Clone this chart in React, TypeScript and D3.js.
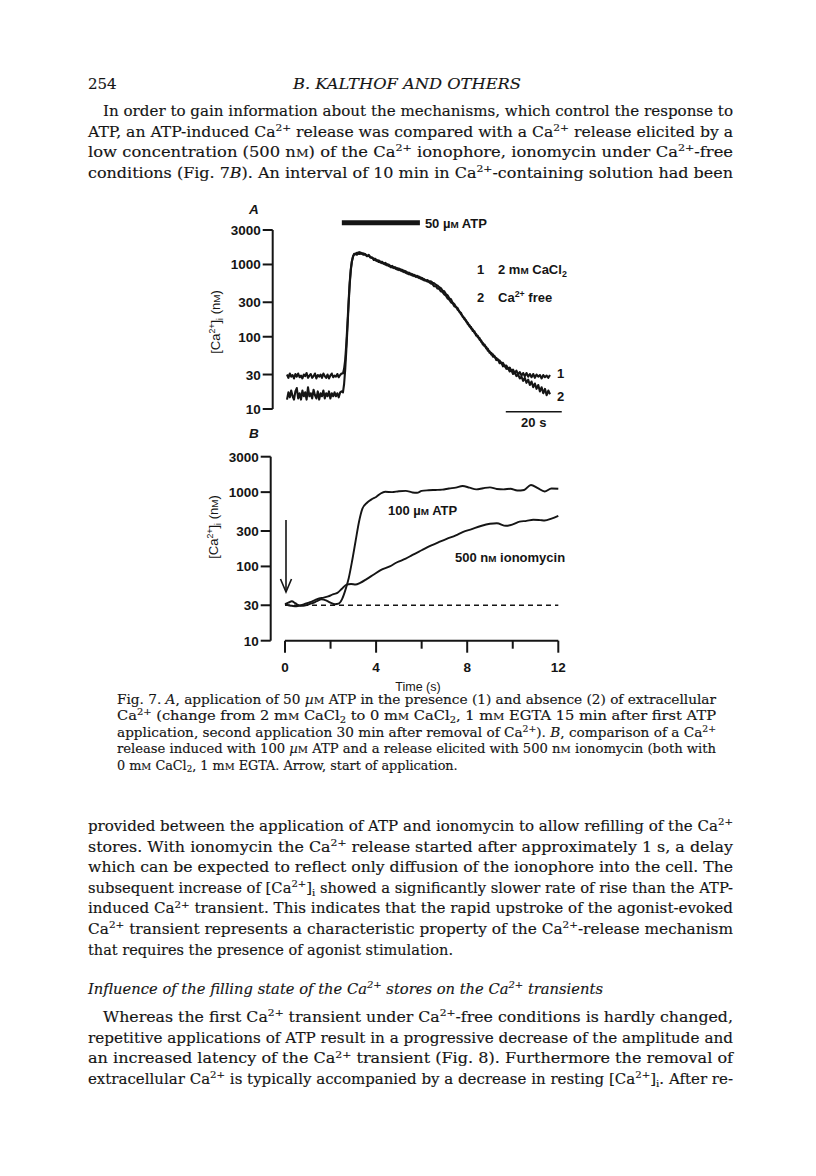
import React from 'react';
import * as d3 from 'd3';

// ---------- data ----------
const yTicks = [10, 30, 100, 300, 1000, 3000];
const yTickLabels = ['10', '30', '100', '300', '1000', '3000'];
const timeTicksB = [0, 4, 8, 12];
const minorTicksB = [2, 6, 10];

// Panel A: time (s) / [Ca2+]i (nM)
const atpBarA: [number, number] = [19.6, 47.5];
const scaleBarA: [number, number] = [78.2, 98.2];

const baseA1 = [30, 27, 31, 28, 29.5, 26.5, 30.5, 28, 31, 27.5, 29, 26.5, 30, 28.5, 31.5, 27, 29, 30.5, 27, 28.5,
  31, 26.5, 29.5, 28, 30, 27, 31, 28.5, 27, 30, 26.5, 29, 31, 27.5, 29, 28, 30.5, 27.5, 29.5, 31];
const baseA2 = [13.5, 17, 14.5, 18, 15, 13.5, 17.5, 19.5, 14, 16.5, 13.5, 18, 15, 17, 13.5, 20, 15, 16.5, 14, 18.5,
  15.5, 14, 17.5, 13.5, 16.5, 15, 18, 14, 16.5, 15, 17.5, 14, 16.5, 15, 17, 15, 16.5, 14.5, 17, 17.5];

const riseA1: [number, number][] = [[20, 31], [20.4, 36], [20.8, 48], [21.2, 80], [21.6, 150], [22, 300], [22.4, 560], [22.8, 860],
  [23.2, 1120], [23.6, 1300], [24, 1380], [24.5, 1420], [25, 1360], [25.5, 1470], [26, 1400], [26.5, 1450], [27, 1380], [27.5, 1420]];
const riseA2: [number, number][] = [[20, 17], [20.4, 22], [20.8, 35], [21.2, 65], [21.6, 130], [22, 270], [22.4, 520], [22.8, 830],
  [23.2, 1100], [23.6, 1280], [24, 1400], [24.5, 1380], [25, 1450], [25.5, 1400], [26, 1480], [26.5, 1410], [27, 1430], [27.5, 1360]];

const decayA1: [number, number][] = [
  [28.0, 1370], [28.6, 1310], [29.2, 1360], [29.8, 1260], [30.4, 1260], [31.0, 1160], [31.6, 1200], [32.2, 1110], [32.8, 1140],
  [33.4, 1060], [34.0, 1090], [34.6, 1020], [35.2, 1050], [35.8, 970], [36.4, 1000], [37.0, 920], [37.6, 955], [38.2, 890],
  [38.8, 915], [39.4, 850], [40.0, 880], [40.6, 820], [41.2, 845], [41.8, 785], [42.4, 810], [43.0, 745], [43.6, 770],
  [44.2, 720], [44.8, 735], [45.4, 690], [46.0, 705], [46.6, 665], [47.2, 680], [47.8, 635], [48.4, 650], [49.0, 600],
  [49.6, 605], [50.2, 580], [50.8, 570], [51.4, 545], [52.0, 535], [52.6, 500], [53.2, 500], [53.8, 465], [54.4, 460],
  [55.0, 425], [55.6, 415], [56.2, 385], [56.8, 370], [57.4, 340], [58.0, 325], [58.6, 300], [59.2, 290], [59.8, 264],
  [60.4, 258], [61.0, 236], [61.6, 225], [62.2, 204], [62.8, 193], [63.4, 175], [64.0, 168], [64.6, 150], [65.2, 145],
  [65.8, 130], [66.4, 126], [67.0, 113], [67.6, 109], [68.2, 98], [68.8, 96], [69.4, 85], [70.0, 82], [70.6, 74],
  [71.2, 72], [71.8, 64], [72.4, 63], [73.0, 57], [73.6, 57], [74.2, 52], [74.8, 51], [75.4, 47.5], [76.0, 47],
  [76.6, 43], [77.2, 43.5], [77.8, 39], [78.4, 40], [79.0, 36], [79.6, 37.5], [80.2, 33.5], [80.8, 35], [81.4, 31.5],
  [82.0, 34], [82.6, 30], [83.2, 32.5], [83.8, 29], [84.4, 31.5], [85.0, 28.5], [85.6, 31.5], [86.2, 28], [86.8, 30.5],
  [87.4, 27.5], [88.0, 30.5], [88.6, 27], [89.2, 30], [89.8, 28], [90.4, 29.5], [91.0, 26.5], [91.6, 29.5], [92.2, 27.5],
  [92.8, 29], [93.4, 27], [94.0, 29.5]];

const decayA2: [number, number][] = [
  [28.0, 1390], [28.6, 1300], [29.2, 1330], [29.8, 1250], [30.4, 1230], [31.0, 1210], [31.6, 1140], [32.2, 1150], [32.8, 1080],
  [33.4, 1100], [34.0, 1040], [34.6, 1050], [35.2, 990], [35.8, 1010], [36.4, 950], [37.0, 960], [37.6, 905], [38.2, 925],
  [38.8, 870], [39.4, 890], [40.0, 835], [40.6, 860], [41.2, 800], [41.8, 825], [42.4, 765], [43.0, 780], [43.6, 730],
  [44.2, 750], [44.8, 700], [45.4, 720], [46.0, 675], [46.6, 695], [47.2, 648], [47.8, 662], [48.4, 618], [49.0, 628],
  [49.6, 600], [50.2, 607], [50.8, 585], [51.4, 586], [52.0, 560], [52.6, 550], [53.2, 525], [53.8, 510], [54.4, 485],
  [55.0, 470], [55.6, 435], [56.2, 425], [56.8, 390], [57.4, 375], [58.0, 340], [58.6, 330], [59.2, 296], [59.8, 284],
  [60.4, 258], [61.0, 249], [61.6, 221], [62.2, 214], [62.8, 188], [63.4, 182], [64.0, 163], [64.6, 156], [65.2, 139],
  [65.8, 136], [66.4, 120], [67.0, 119], [67.6, 104], [68.2, 103], [68.8, 91], [69.4, 89], [70.0, 78], [70.6, 78],
  [71.2, 69], [71.8, 68], [72.4, 60], [73.0, 60], [73.6, 53], [74.2, 54], [74.8, 47.5], [75.4, 48.5], [76.0, 43],
  [76.6, 44], [77.2, 39], [77.8, 40], [78.4, 36], [79.0, 37], [79.6, 33], [80.2, 34.5], [80.8, 30.5], [81.4, 32],
  [82.0, 28.5], [82.6, 30], [83.2, 26.5], [83.8, 28], [84.4, 24.5], [85.0, 27], [85.6, 23], [86.2, 25.5], [86.8, 21.5],
  [87.4, 24], [88.0, 20], [88.6, 22.5], [89.2, 19], [89.8, 21.5], [90.4, 17.5], [91.0, 20], [91.6, 16.5], [92.2, 19],
  [92.8, 15.5], [93.4, 18], [94.0, 16]];

// Panel B: time (s) / [Ca2+]i (nM)
const atpB: [number, number][] = [[0, 31], [0.15, 32.5], [0.3, 34], [0.45, 32], [0.6, 30], [0.8, 29.5], [1.0, 30.5], [1.2, 32],
  [1.4, 34], [1.6, 36], [1.8, 35], [2.0, 32.5], [2.2, 31], [2.35, 31.5], [2.5, 36], [2.65, 48], [2.8, 70], [2.95, 120],
  [3.1, 220], [3.25, 400], [3.4, 600], [3.6, 720], [3.8, 800], [4.0, 860], [4.2, 960], [4.4, 1010], [4.7, 1000], [5.0, 1030],
  [5.3, 1040], [5.6, 990], [5.8, 980], [6.0, 1040], [6.3, 1060], [6.6, 1070], [6.9, 1080], [7.2, 1120], [7.5, 1150],
  [7.8, 1210], [8.1, 1150], [8.4, 1090], [8.7, 1130], [9.0, 1160], [9.3, 1100], [9.6, 1090], [9.9, 1110], [10.2, 1050],
  [10.5, 1070], [10.8, 1250], [11.1, 1130], [11.4, 1020], [11.7, 1120], [12.0, 1110]];
const ionoB: [number, number][] = [[0, 31], [0.15, 30], [0.3, 29.5], [0.5, 29], [0.7, 30], [0.9, 31.5], [1.1, 33], [1.3, 35],
  [1.5, 37], [1.7, 38], [1.9, 39.5], [2.1, 42], [2.3, 44], [2.5, 50], [2.7, 57], [2.9, 58], [3.1, 57], [3.3, 60], [3.6, 68],
  [3.9, 78], [4.2, 89], [4.6, 100], [4.9, 113], [5.3, 127], [5.6, 143], [6.0, 165], [6.4, 190], [6.8, 215], [7.1, 235],
  [7.5, 262], [7.8, 290], [8.2, 318], [8.6, 350], [9.0, 375], [9.3, 382], [9.7, 352], [10.0, 368], [10.3, 400], [10.6, 410],
  [10.9, 425], [11.2, 420], [11.4, 415], [11.7, 440], [12.0, 480]];
const baselineB = 30;

// ---------- text ----------
const header = { page: '254', running: 'B. KALTHOF AND OTHERS' };
const paraTop = [
  'In order to gain information about the mechanisms, which control the response to',
  'ATP, an ATP-induced Ca^2+^ release was compared with a Ca^2+^ release elicited by a',
  'low concentration (500 n#M#) of the Ca^2+^ ionophore, ionomycin under Ca^2+^-free',
  'conditions (Fig. 7*B*). An interval of 10 min in Ca^2+^-containing solution had been',
];
const caption = [
  'Fig. 7. *A*, application of 50 *µ*#M# ATP in the presence (1) and absence (2) of extracellular',
  'Ca^2+^ (change from 2 m#M# CaCl_2_ to 0 m#M# CaCl_2_, 1 m#M# EGTA 15 min after first ATP',
  'application, second application 30 min after removal of Ca^2+^). *B*, comparison of a Ca^2+^',
  'release induced with 100 *µ*#M# ATP and a release elicited with 500 n#M# ionomycin (both with',
  '0 m#M# CaCl_2_, 1 m#M# EGTA. Arrow, start of application.',
];
const paraMid = [
  'provided between the application of ATP and ionomycin to allow refilling of the Ca^2+^',
  'stores. With ionomycin the Ca^2+^ release started after approximately 1 s, a delay',
  'which can be expected to reflect only diffusion of the ionophore into the cell. The',
  'subsequent increase of [Ca^2+^]_i_ showed a significantly slower rate of rise than the ATP-',
  'induced Ca^2+^ transient. This indicates that the rapid upstroke of the agonist-evoked',
  'Ca^2+^ transient represents a characteristic property of the Ca^2+^-release mechanism',
  'that requires the presence of agonist stimulation.',
];
const heading = 'Influence of the filling state of the Ca^2+^ stores on the Ca^2+^ transients';
const paraBottom = [
  'Whereas the first Ca^2+^ transient under Ca^2+^-free conditions is hardly changed,',
  'repetitive applications of ATP result in a progressive decrease of the amplitude and',
  'an increased latency of the Ca^2+^ transient (Fig. 8). Furthermore the removal of',
  'extracellular Ca^2+^ is typically accompanied by a decrease in resting [Ca^2+^]_i_. After re-',
];

const INK = '#151515';
const SERIF = '"DejaVu Serif", serif';
const SANS = '"Liberation Sans", Arial, sans-serif';

type RichProps = {
  x: number; y: number; text: string; size: number; width?: number; family?: string;
  italic?: boolean; weight?: number | string; anchor?: string; transform?: string; ink?: number;
};

function Rich({ x, y, text, size, width, family = SERIF, italic, weight, anchor, transform, ink }: RichProps) {
  const parts = text.split(/(\^[^^]*\^|_[^_]*_|\*[^*]*\*|#[^#]*#)/).filter((s) => s.length > 0);
  let cur = 0;
  const spans = parts.map((p, i) => {
    let content = p;
    let off = 0;
    let fs = size;
    let style: string | undefined;
    const wrap = (c: string) => p.length > 1 && p[0] === c && p[p.length - 1] === c;
    if (wrap('^')) { content = p.slice(1, -1); off = -0.38 * size; fs = size * 0.68; }
    else if (wrap('_')) { content = p.slice(1, -1); off = 0.22 * size; fs = size * 0.68; }
    else if (wrap('*')) { content = p.slice(1, -1); style = 'italic'; }
    else if (wrap('#')) { content = p.slice(1, -1); fs = size * 0.76; }
    const dy = off - cur;
    cur = off;
    return (
      <tspan key={i} dy={dy !== 0 ? dy : undefined} fontSize={fs} fontStyle={style}>{content}</tspan>
    );
  });
  const sw = ink ?? (family === SERIF ? 0.15 : 0);
  return (
    <text x={x} y={y} fontFamily={family} fontSize={size} fill={INK}
      stroke={sw > 0 ? INK : undefined} strokeWidth={sw > 0 ? sw : undefined}
      fontStyle={italic ? 'italic' : undefined} fontWeight={weight}
      textAnchor={anchor} transform={transform}
      textLength={width} lengthAdjust={width ? 'spacingAndGlyphs' : undefined}
      style={{ whiteSpace: 'pre' }}>
      {spans}
    </text>
  );
}

export default function App() {
  // scales
  const xA = d3.scaleLinear().domain([0, 94]).range([287, 550]);
  const yA = d3.scaleLog().domain([10, 3000]).range([409, 230]);
  const xB = d3.scaleLinear().domain([0, 12]).range([285, 558.3]);
  const yB = d3.scaleLog().domain([10, 3000]).range([640.7, 456.7]);

  const timesA = baseA1.map((_, i) => i * 0.5);
  const traceA1: [number, number][] = [...baseA1.map((v, i) => [timesA[i], v] as [number, number]), ...riseA1, ...decayA1];
  const traceA2: [number, number][] = [...baseA2.map((v, i) => [timesA[i], v] as [number, number]), ...riseA2, ...decayA2];

  const lineA = d3.line<[number, number]>().x((d) => xA(d[0])).y((d) => yA(d[1]));
  const lineB = d3.line<[number, number]>().x((d) => xB(d[0])).y((d) => yB(d[1])).curve(d3.curveMonotoneX);

  const axisAx = 272.7;
  const axisBx = 270.7;

  const L = 88, R = 733;
  const topBase = [116, 136.5, 157, 177.5];
  const capBase = [703.5, 720, 736.5, 753, 769.5];
  const midBase = [831, 851.6, 872.2, 892.8, 913.4, 934, 954.6];
  const botBase = [1022, 1042.6, 1063.2, 1083.8];

  const tickFont = 13.5;

  return (
    <svg width={816} height={1176} viewBox="0 0 816 1176"
      style={{ position: 'absolute', left: 0, top: 0, background: '#fff' }}>
      <rect x={0} y={0} width={816} height={1176} fill="#fff" />

      {/* header */}
      <Rich x={L} y={89} text={header.page} size={15} />
      <Rich x={293} y={89} text={header.running} size={15} italic width={228} />

      {/* top paragraph */}
      {paraTop.map((t, i) => (
        <Rich key={i} x={i === 0 ? L + 15 : L} y={topBase[i]} text={t} size={14.5}
          width={R - (i === 0 ? L + 15 : L)} />
      ))}

      {/* ---------- Panel A ---------- */}
      <text x={249} y={214} fontFamily={SANS} fontSize={13.5} fontWeight={700} fontStyle="italic" fill={INK}>A</text>
      <line x1={axisAx} x2={axisAx} y1={yA(3000)} y2={yA(10)} stroke={INK} strokeWidth={2} />
      {yTicks.map((v, i) => (
        <g key={i}>
          <line x1={axisAx - 10} x2={axisAx} y1={yA(v)} y2={yA(v)} stroke={INK} strokeWidth={2} />
          <text x={axisAx - 12} y={yA(v) + 5} textAnchor="end" fontFamily={SANS} fontSize={tickFont}
            fontWeight={700} fill={INK}>{yTickLabels[i]}</text>
        </g>
      ))}
      <Rich x={0} y={0} text="[Ca^2+^]_i_ (n#M#)" size={13} family={SANS} anchor="middle"
        transform={`translate(220,322) rotate(-90)`} />
      <line x1={xA(atpBarA[0])} x2={xA(atpBarA[1])} y1={222.7} y2={222.7} stroke={INK} strokeWidth={5} />
      <Rich x={xA(atpBarA[1]) + 5} y={227.5} text="50 µ#M# ATP" size={13} family={SANS} weight={700} />
      <path d={lineA(traceA2) || ''} fill="none" stroke={INK} strokeWidth={2.1} strokeLinejoin="round" />
      <path d={lineA(traceA1) || ''} fill="none" stroke={INK} strokeWidth={2.1} strokeLinejoin="round" />
      <text x={477} y={274} fontFamily={SANS} fontSize={13} fontWeight={700} fill={INK}>1</text>
      <Rich x={498} y={274} text="2 m#M# CaCl_2_" size={13} family={SANS} weight={700} />
      <text x={477} y={302} fontFamily={SANS} fontSize={13} fontWeight={700} fill={INK}>2</text>
      <Rich x={498} y={302} text="Ca^2+^ free" size={13} family={SANS} weight={700} />
      <text x={557} y={378} fontFamily={SANS} fontSize={13} fontWeight={700} fill={INK}>1</text>
      <text x={557} y={401} fontFamily={SANS} fontSize={13} fontWeight={700} fill={INK}>2</text>
      <line x1={xA(scaleBarA[0])} x2={xA(scaleBarA[1])} y1={411.7} y2={411.7} stroke={INK} strokeWidth={1.6} />
      <text x={(xA(scaleBarA[0]) + xA(scaleBarA[1])) / 2} y={426.5} textAnchor="middle" fontFamily={SANS}
        fontSize={13} fontWeight={700} fill={INK}>20 s</text>

      {/* ---------- Panel B ---------- */}
      <text x={249} y={438} fontFamily={SANS} fontSize={13.5} fontWeight={700} fontStyle="italic" fill={INK}>B</text>
      <line x1={axisBx} x2={axisBx} y1={yB(3000)} y2={yB(10)} stroke={INK} strokeWidth={2} />
      {yTicks.map((v, i) => (
        <g key={i}>
          <line x1={axisBx - 10} x2={axisBx} y1={yB(v)} y2={yB(v)} stroke={INK} strokeWidth={2} />
          <text x={axisBx - 12} y={yB(v) + 5} textAnchor="end" fontFamily={SANS} fontSize={tickFont}
            fontWeight={700} fill={INK}>{yTickLabels[i]}</text>
        </g>
      ))}
      <Rich x={0} y={0} text="[Ca^2+^]_i_ (n#M#)" size={13} family={SANS} anchor="middle"
        transform={`translate(218,527) rotate(-90)`} />
      <line x1={xB(0)} x2={xB(12)} y1={yB(10)} y2={yB(10)} stroke={INK} strokeWidth={2} />
      {timeTicksB.map((t) => (
        <g key={t}>
          <line x1={xB(t)} x2={xB(t)} y1={yB(10)} y2={yB(10) + 12} stroke={INK} strokeWidth={2} />
          <text x={xB(t)} y={671.5} textAnchor="middle" fontFamily={SANS} fontSize={tickFont} fontWeight={700}
            fill={INK}>{t}</text>
        </g>
      ))}
      {minorTicksB.map((t) => (
        <line key={t} x1={xB(t)} x2={xB(t)} y1={yB(10)} y2={yB(10) + 8} stroke={INK} strokeWidth={2} />
      ))}
      <text x={418} y={690.5} textAnchor="middle" fontFamily={SANS} fontSize={12.5} fill={INK}>Time (s)</text>
      <line x1={xB(0)} x2={xB(12)} y1={yB(baselineB)} y2={yB(baselineB)} stroke={INK} strokeWidth={1.6}
        strokeDasharray="5,4" />
      <path d={lineB(ionoB) || ''} fill="none" stroke={INK} strokeWidth={1.9} />
      <path d={lineB(atpB) || ''} fill="none" stroke={INK} strokeWidth={1.9} />
      <line x1={xB(0) + 1} x2={xB(0) + 1} y1={520} y2={592} stroke={INK} strokeWidth={1.6} />
      <path d={`M${xB(0) - 4.5},579 L${xB(0) + 1},592 L${xB(0) + 6.5},579`} fill="none" stroke={INK} strokeWidth={1.6} />
      <Rich x={388} y={515} text="100 µ#M# ATP" size={13} family={SANS} weight={700} />
      <Rich x={455} y={562} text="500 n#M# ionomycin" size={13} family={SANS} weight={700} />

      {/* caption */}
      {caption.map((t, i) => (
        <Rich key={i} x={117} y={capBase[i]} text={t} size={12.8}
          width={i < caption.length - 1 ? 716 - 117 : undefined} />
      ))}

      {/* middle paragraph */}
      {paraMid.map((t, i) => (
        <Rich key={i} x={L} y={midBase[i]} text={t} size={14.5}
          width={i < paraMid.length - 1 ? R - L : undefined} />
      ))}

      <Rich x={L} y={994} text={heading} size={14.5} italic width={515} />

      {paraBottom.map((t, i) => (
        <Rich key={i} x={i === 0 ? L + 15 : L} y={botBase[i]} text={t} size={14.5}
          width={R - (i === 0 ? L + 15 : L)} />
      ))}
    </svg>
  );
}
